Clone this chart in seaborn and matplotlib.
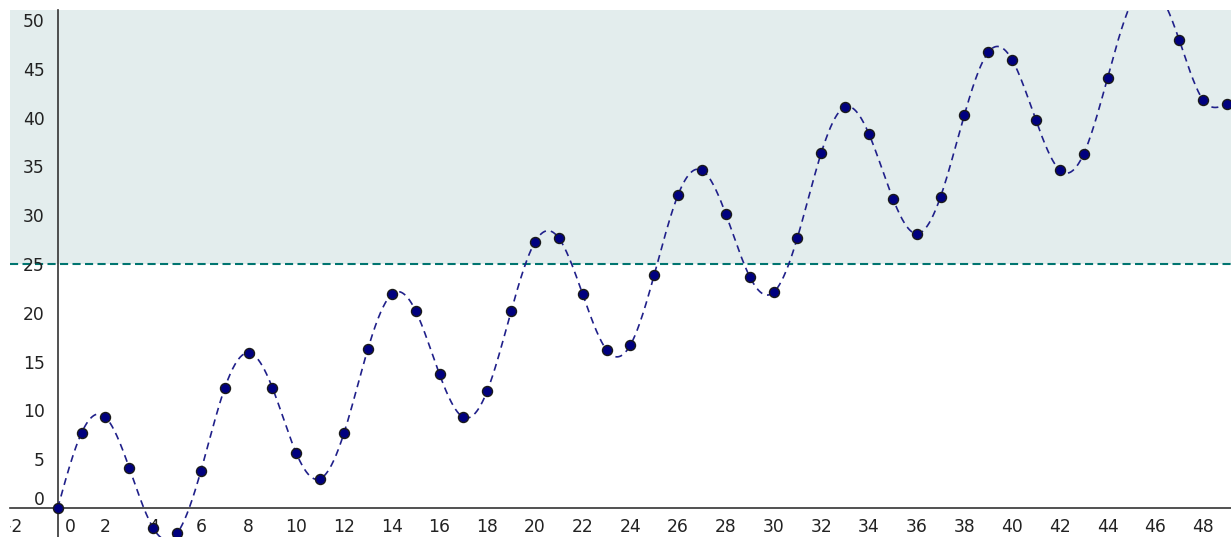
import numpy as np
import pandas as pd
import seaborn as sns
import matplotlib.pyplot as plt
from matplotlib.transforms import offset_copy

# values
x_vals = list(range(0, 50))
y_vals = [0, 7.7, 9.3, 4.1, -2.05, -2.6, 3.8, 12.3, 15.9, 12.3,
          5.6, 3.0, 7.7, 16.3, 21.9, 20.2, 13.7, 9.3, 12.0, 20.15,
          27.25, 27.65, 21.9, 16.2, 16.7, 23.9, 32.1, 34.6, 30.1, 23.7,
          22.1, 27.7, 36.4, 41.1, 38.3, 31.7, 28.1, 31.9, 40.3, 46.7,
          45.9, 39.7, 34.6, 36.3, 44.1, 51.8, 53.2, 47.95, 41.8, 41.4]
threshold = 25
x_ticks = list(range(-2, 50, 2))
y_ticks = list(range(0, 55, 5))

df = pd.DataFrame({"x": x_vals, "y": y_vals})


def natural_spline(x, y, xs):
    # plain natural cubic spline, only used to draw the smooth dashed curve
    x = np.asarray(x, float)
    y = np.asarray(y, float)
    n = len(x)
    h = np.diff(x)
    A = np.zeros((n, n))
    b = np.zeros(n)
    A[0, 0] = A[-1, -1] = 1
    for i in range(1, n - 1):
        A[i, i - 1] = h[i - 1]
        A[i, i] = 2 * (h[i - 1] + h[i])
        A[i, i + 1] = h[i]
        b[i] = 6 * ((y[i + 1] - y[i]) / h[i] - (y[i] - y[i - 1]) / h[i - 1])
    M = np.linalg.solve(A, b)
    idx = np.clip(np.searchsorted(x, xs) - 1, 0, n - 2)
    x0, x1 = x[idx], x[idx + 1]
    hh = x1 - x0
    t0, t1 = x1 - xs, xs - x0
    return (M[idx] * t0**3 / (6 * hh) + M[idx + 1] * t1**3 / (6 * hh)
            + (y[idx] / hh - M[idx] * hh / 6) * t0
            + (y[idx + 1] / hh - M[idx + 1] * hh / 6) * t1)


xs = np.linspace(x_vals[0], x_vals[-1], 2000)
curve = pd.DataFrame({"x": xs, "y": natural_spline(x_vals, y_vals, xs)})

sns.set_style("white")
plt.rcParams['font.family'] = ['DejaVu Sans']

fig = plt.figure(figsize=(12.31, 5.37), dpi=100)
ax = fig.add_axes([10 / 1231, 0, 1221 / 1231, 527 / 537])
ax.set_xlim(-1.969, 49.17)
ax.set_ylim(-2.97, 51.02)

ax.axhspan(threshold, 60, color="#e3eded", zorder=0, lw=0)
ax.axhline(threshold, color="#007570", lw=1.5, ls=(0, (3.9, 2.1)), zorder=2)

sns.lineplot(data=curve, x="x", y="y", ax=ax, color="#20208a", lw=1.2,
             linestyle=(0, (4.2, 3.0)), sort=False, estimator=None, zorder=3)
sns.scatterplot(data=df, x="x", y="y", ax=ax, color="#00007f", s=52,
                edgecolor="#1a1a1a", linewidth=1, zorder=4, clip_on=True)

# axes through the origin
for s in ["top", "right"]:
    ax.spines[s].set_visible(False)
ax.spines["left"].set_position(("data", 0))
ax.spines["bottom"].set_position(("data", 0))
for s in ["left", "bottom"]:
    ax.spines[s].set_color("#333333")
    ax.spines[s].set_linewidth(1.2)
ax.set_xticks([t for t in x_ticks if t != 0])
ax.set_yticks(y_ticks[1:])
ax.tick_params(axis="both", direction="out", length=4, width=1,
               color="#333333", labelbottom=False, labelleft=False)
ax.set_xlabel("")
ax.set_ylabel("")

fs = 12.3
tc = "#222222"
for t in x_ticks:
    if t == 0:
        tr = offset_copy(ax.transData, fig=fig, x=13, y=-10, units="dots")
    else:
        tr = offset_copy(ax.transData, fig=fig, x=0, y=-10, units="dots")
    ax.text(t, 0, str(t).replace("-", "\u2212"), transform=tr, ha="center",
            va="top", fontsize=fs, color=tc, clip_on=True)
for t in y_ticks:
    dy = 10 if t == 0 else 0
    tr = offset_copy(ax.transData, fig=fig, x=-13, y=dy, units="dots")
    ax.text(0, t, str(t), transform=tr, ha="right", va="center_baseline",
            fontsize=fs, color=tc, clip_on=True)

fig.savefig("out.png", dpi=100)
